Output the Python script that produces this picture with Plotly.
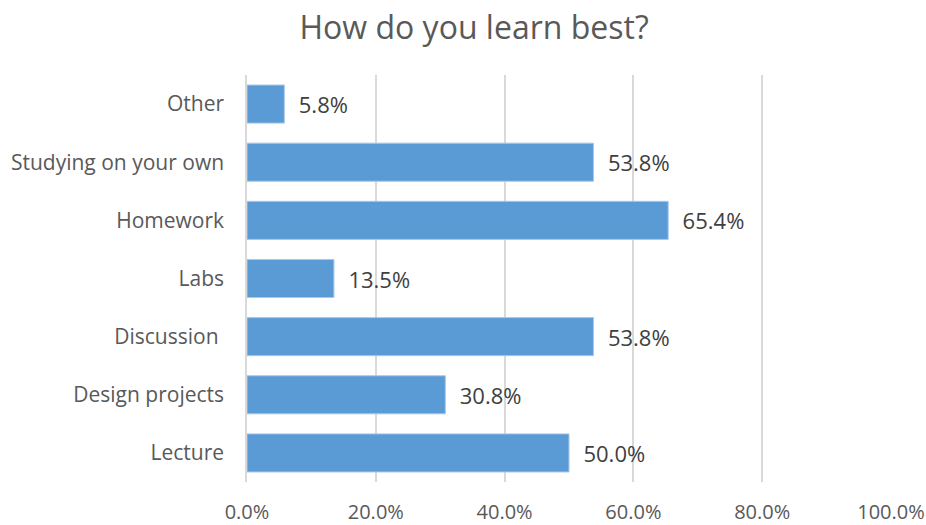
import plotly.graph_objects as go

categories = ["Lecture", "Design projects", "Discussion ", "Labs", "Homework",
              "Studying on your own", "Other"]
values = [50.0, 30.8, 53.8, 13.5, 65.4, 53.8, 5.8]
x_ticks = [0, 20, 40, 60, 80, 100]
x_tick_labels = ["0.0%", "20.0%", "40.0%", "60.0%", "80.0%", "100.0%"]

FONT = "Open Sans"
fig = go.Figure(go.Bar(
    x=values, y=categories, orientation="h",
    marker=dict(color="#5B9BD5", line=dict(color="#A9C8EA", width=1)),
    text=[f"{v:.1f}%" for v in values],
    textposition="outside",
    textfont=dict(family=FONT, size=22, color="#404040"),
    cliponaxis=False,
))
fig.update_traces(texttemplate="  %{text}")
fig.update_layout(
    width=926, height=525,
    paper_bgcolor="white", plot_bgcolor="white",
    margin=dict(l=247, r=35, t=75, b=43, autoexpand=False),
    bargap=0.345,
    showlegend=False,
    title=dict(text="How do you learn best?", x=0.512, xanchor="center",
               y=0.948, yanchor="middle", automargin=False,
               font=dict(family=FONT, size=32, color="#595959")),
    font=dict(family=FONT, color="#595959"),
)
fig.update_xaxes(range=[0, 100], tickvals=x_ticks, ticktext=x_tick_labels,
                 automargin=False,
                 showgrid=True, gridcolor="#D9D9D9", gridwidth=1.5,
                 zeroline=False, showline=False,
                 ticks="outside", ticklen=12, tickcolor="rgba(0,0,0,0)",
                 tickfont=dict(family=FONT, size=20, color="#595959"))
fig.update_yaxes(showgrid=False, zeroline=False, automargin=False,
                 showline=True, linecolor="#D9D9D9", linewidth=1.5,
                 ticks="", ticklabelstandoff=17,
                 tickfont=dict(family=FONT, size=21, color="#595959"))
fig.write_html("out.html", config={"displayModeBar": False},
               post_script="document.body.style.margin='0';document.body.style.overflow='hidden';")
